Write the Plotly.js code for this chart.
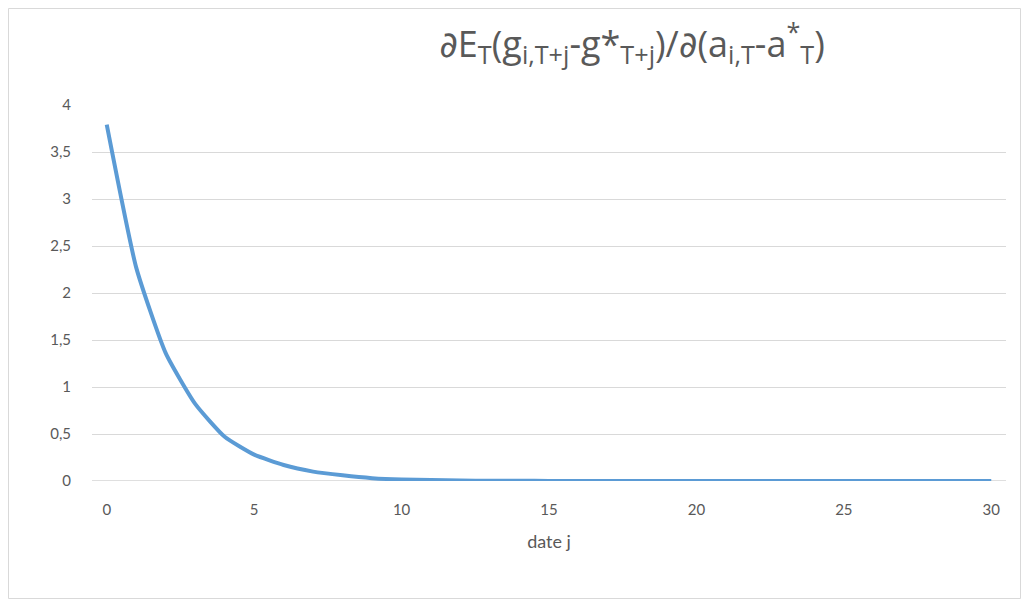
<!DOCTYPE html>
<html><head><meta charset="utf-8">
<script src="https://cdn.plot.ly/plotly-3.0.1.min.js"></script>
<style>html,body{margin:0;padding:0;background:#fff}#c{width:1030px;height:607px}</style>
</head><body><div id="c"></div>
<script>
var dates = [0,1,2,3,4,5,6,7,8,9,10,11,12,13,14,15,16,17,18,19,20,21,22,23,24,25,26,27,28,29,30];
var values = [3.79,2.27,1.36,0.82,0.47,0.28,0.17,0.10,0.06,0.03,0.015,0.01,0.005,0.003,0.002,0.001,0,0,0,0,0,0,0,0,0,0,0,0,0,0,0];
var xTicks = [0,5,10,15,20,25,30];
var yTicks = [0,0.5,1,1.5,2,2.5,3,3.5,4];
var yTickText = ['0','0,5','1','1,5','2','2,5','3','3,5','4'];

var L=92, R=24, T=105, B=126, W=1030-L-R, H=607-T-B;
function px(p){return (p-L)/W;}
function py(q){return (607-B-q)/H;}

var tickFam = 'Lato, "Open Sans", sans-serif';
var titleFam = '"Open Sans", "Noto Sans", sans-serif';
var d = '<span style="font-family:\'DejaVu Sans\'">∂</span>';
Plotly.newPlot('c',[{
  x:dates, y:values, type:'scatter', mode:'lines',
  line:{color:'#5B9BD5', width:4, shape:'spline', smoothing:0.5},
  hoverinfo:'skip'
}],{
  width:1030, height:607,
  margin:{l:L,r:R,t:T,b:B,pad:0},
  paper_bgcolor:'#fff', plot_bgcolor:'#fff',
  showlegend:false,
  title:{text:d+'E<sub>T</sub>(g<sub>i,T+j</sub>-g*<sub>T+j</sub>)/'+d+'(a<sub>i,T</sub>-a<sup>*</sup><sub>T</sub>)',
    font:{family:titleFam,color:'#595959',size:36}, x:632/1030, xref:'container', xanchor:'center', y:1-44/607, yref:'container', yanchor:'middle'},
  xaxis:{range:[-0.5,30.5], tickvals:xTicks, ticktext:xTicks.map(String), showgrid:false, zeroline:false,
    showline:false, ticks:'', tickfont:{family:tickFam,color:'#595959',size:15}, ticklabelstandoff:18,
    title:{text:'date j', font:{family:tickFam,color:'#595959',size:18}, standoff:18}, fixedrange:true},
  yaxis:{range:[0,4], tickvals:yTicks, ticktext:yTickText, showgrid:true, gridcolor:'#D9D9D9', gridwidth:1,
    zeroline:false, showline:false, ticks:'', tickfont:{family:tickFam,color:'#595959',size:15}, ticklabelstandoff:20, fixedrange:true},
  shapes:[
    {type:'line', xref:'paper', yref:'y', x0:0, x1:1, y0:0, y1:0, line:{color:'#BFBFBF', width:1}, layer:'below'},
    {type:'rect', xref:'paper', yref:'paper', x0:px(8.5), x1:px(1020.5), y0:py(8.5), y1:py(598.5), line:{color:'#D9D9D9', width:1}, fillcolor:'rgba(0,0,0,0)'}
  ]
},{displayModeBar:false, staticPlot:true});
</script></body></html>
